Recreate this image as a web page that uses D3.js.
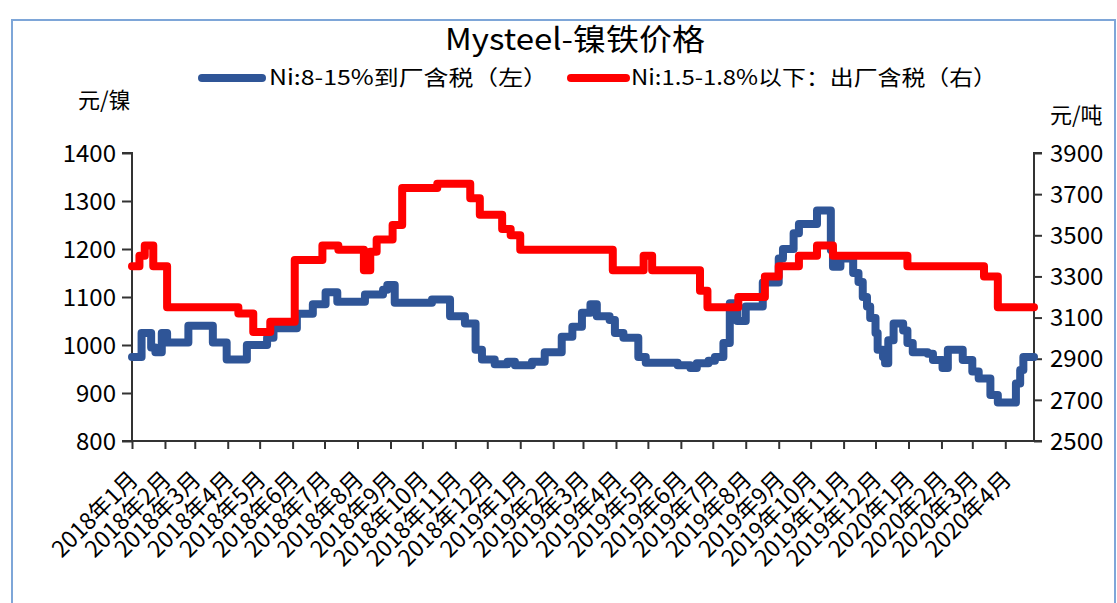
<!DOCTYPE html>
<html><head><meta charset="utf-8">
<script src="https://cdn.jsdelivr.net/npm/d3@7/dist/d3.min.js"></script>
<style>
html,body{margin:0;padding:0;background:#fff;}
svg text{font-family:"Noto Sans CJK SC","Noto Sans",sans-serif;fill:#000;}
</style></head>
<body>
<svg id="chart" width="1117" height="603"></svg>
<script>
const title = "Mysteel-镍铁价格";
const seriesNames = ["Ni:8-15%到厂含税（左）", "Ni:1.5-1.8%以下：出厂含税（右）"];
const leftUnit = "元/镍", rightUnit = "元/吨";
const leftTicks = [800, 900, 1000, 1100, 1200, 1300, 1400];
const rightTicks = [2500, 2700, 2900, 3100, 3300, 3500, 3700, 3900];
const monthTicks = ["2018-01-01","2018-02-01","2018-03-01","2018-04-01","2018-05-01","2018-06-01","2018-07-01","2018-08-01","2018-09-01","2018-10-01","2018-11-01","2018-12-01","2019-01-01","2019-02-01","2019-03-01","2019-04-01","2019-05-01","2019-06-01","2019-07-01","2019-08-01","2019-09-01","2019-10-01","2019-11-01","2019-12-01","2020-01-01","2020-02-01","2020-03-01","2020-04-01"];
const dateRange = ["2018-01-01", "2020-04-28"];

// Blue series (left axis) — change dates and values
const blueDates = ["2018-01-01","2018-01-10","2018-01-19","2018-01-23","2018-01-29","2018-02-03","2018-02-23","2018-03-18","2018-03-31","2018-04-19","2018-05-08","2018-05-14","2018-06-05","2018-06-20","2018-07-02","2018-07-13","2018-08-08","2018-08-25","2018-08-29","2018-09-05","2018-10-10","2018-10-27","2018-11-10","2018-11-20","2018-11-26","2018-12-08","2018-12-20","2018-12-27","2019-01-12","2019-01-24","2019-02-09","2019-02-19","2019-02-28","2019-03-08","2019-03-14","2019-03-26","2019-03-31","2019-04-08","2019-04-22","2019-04-29","2019-05-29","2019-06-10","2019-06-16","2019-06-27","2019-07-03","2019-07-11","2019-07-17","2019-07-24","2019-08-01","2019-08-17","2019-09-01","2019-09-05","2019-09-15","2019-09-20","2019-10-07","2019-10-14","2019-10-20","2019-10-22","2019-10-29","2019-11-07","2019-11-10","2019-11-15","2019-11-19","2019-11-23","2019-11-26","2019-12-01","2019-12-03","2019-12-08","2019-12-10","2019-12-13","2019-12-18","2019-12-23","2019-12-27","2019-12-31","2020-01-05","2020-01-19","2020-01-24","2020-02-02","2020-02-07","2020-02-16","2020-02-21","2020-03-01","2020-03-07","2020-03-15","2020-03-18","2020-03-25","2020-04-06","2020-04-11","2020-04-15","2020-04-18","2020-04-28"];
const blueValues = [975,1025,995,985,1025,1005,1040,1005,970,1000,1015,1035,1065,1085,1110,1090,1105,1115,1125,1088,1095,1060,1045,990,970,960,965,958,965,985,1017,1038,1067,1085,1060,1052,1025,1015,975,963,958,952,962,967,975,1004,1087,1050,1080,1130,1180,1200,1233,1252,1280,1280,1198,1163,1180,1180,1150,1131,1100,1080,1056,1025,990,975,962,1010,1045,1045,1030,1004,985,982,969,952,990,990,969,945,930,930,896,880,880,920,948,975,975];

// Red series (right axis) — change dates and values
const redDates = ["2018-01-01","2018-01-08","2018-01-13","2018-01-21","2018-02-03","2018-04-11","2018-04-25","2018-05-11","2018-06-03","2018-06-29","2018-07-14","2018-08-07","2018-08-13","2018-08-19","2018-09-03","2018-09-12","2018-10-15","2018-11-15","2018-11-24","2018-12-15","2018-12-23","2019-01-01","2019-03-29","2019-04-27","2019-05-05","2019-06-19","2019-06-26","2019-07-25","2019-08-19","2019-09-01","2019-09-20","2019-10-07","2019-10-22","2019-12-31","2020-03-12","2020-03-25","2020-04-28"];
const redValues = [3350,3400,3450,3350,3150,3120,3030,3080,3380,3450,3430,3330,3420,3480,3550,3730,3750,3680,3600,3530,3500,3430,3330,3400,3330,3230,3150,3200,3300,3350,3400,3450,3400,3350,3300,3150,3150];

const parse = d3.timeParse("%Y-%m-%d");
const fmtLabel = d => d.getFullYear() + "年" + (d.getMonth() + 1) + "月";

const svg = d3.select("#chart");
const plot = {left: 132, right: 1034, top: 153, bottom: 441};

// border
svg.append("rect").attr("x", 12).attr("y", 20).attr("width", 1103).attr("height", 620)
  .attr("fill", "none").attr("stroke", "#7ea6d8").attr("stroke-width", 2);

const x = d3.scaleTime().domain(dateRange.map(parse)).range([plot.left, plot.right]);
const yL = d3.scaleLinear().domain([800, 1400]).range([plot.bottom, plot.top]);
const yR = d3.scaleLinear().domain([2500, 3900]).range([plot.bottom, plot.top]);

const axisColor = "#333";

const gL = svg.append("g").attr("transform", `translate(${plot.left},0)`)
  .call(d3.axisLeft(yL).tickValues(leftTicks).tickSize(10).tickPadding(6).tickFormat(d3.format("d")));
const gR = svg.append("g").attr("transform", `translate(${plot.right},0)`)
  .call(d3.axisRight(yR).tickValues(rightTicks).tickSize(8).tickPadding(8).tickFormat(d3.format("d")));
const gB = svg.append("g").attr("transform", `translate(0,${plot.bottom})`)
  .call(d3.axisBottom(x).tickValues(monthTicks.map(parse)).tickSize(8).tickFormat(fmtLabel));

[gL, gR, gB].forEach(g => {
  g.select(".domain").attr("stroke", axisColor).attr("stroke-width", 2);
  g.selectAll(".tick line").attr("stroke", axisColor).attr("stroke-width", 2);
  g.selectAll("text").attr("fill", "#000").style("font-family", '"Noto Sans CJK SC","Noto Sans",sans-serif');
});
gL.select(".domain").attr("d", `M-10,${plot.top}H0V${plot.bottom}H-10`);
gR.select(".domain").attr("d", `M8,${plot.top}H0V${plot.bottom}H8`);
gB.select(".domain").attr("d", `M${plot.left},0H${plot.right}`);
gL.selectAll("text").attr("font-size", 24).attr("dy", "0.34em");
gR.selectAll("text").attr("font-size", 24).attr("dy", "0.34em");
gB.selectAll(".tick text")
  .attr("font-size", 23)
  .attr("text-anchor", "end")
  .attr("dy", 0)
  .attr("y", 0)
  .attr("transform", "translate(7,40) rotate(-45)");

const lineL = d3.line().x(d => x(d.date)).y(d => yL(d.value)).curve(d3.curveStepAfter);
const lineR = d3.line().x(d => x(d.date)).y(d => yR(d.value)).curve(d3.curveStepAfter);
const blue = blueDates.map((d, i) => ({date: parse(d), value: blueValues[i]}));
const red = redDates.map((d, i) => ({date: parse(d), value: redValues[i]}));

const blueColor = "#2f5597", redColor = "#ff0000";
svg.append("path").datum(blue).attr("d", lineL).attr("fill", "none")
  .attr("stroke", blueColor).attr("stroke-width", 8).attr("stroke-linejoin", "round").attr("stroke-linecap", "round");
svg.append("path").datum(red).attr("d", lineR).attr("fill", "none")
  .attr("stroke", redColor).attr("stroke-width", 8).attr("stroke-linejoin", "round").attr("stroke-linecap", "round");

svg.append("text").attr("x", 575).attr("y", 50).attr("text-anchor", "middle")
  .attr("font-size", 30).attr("textLength", 260).attr("lengthAdjust", "spacingAndGlyphs").text(title);

const legend = [
  {x1: 202, x2: 262, tx: 269, tw: 279, color: blueColor, name: seriesNames[0]},
  {x1: 571, x2: 626, tx: 631, tw: 366, color: redColor, name: seriesNames[1]}
];
legend.forEach(l => {
  svg.append("line").attr("x1", l.x1).attr("x2", l.x2).attr("y1", 78).attr("y2", 78)
    .attr("stroke", l.color).attr("stroke-width", 8).attr("stroke-linecap", "round");
  svg.append("text").attr("x", l.tx).attr("y", 85).attr("font-size", 21)
    .attr("textLength", l.tw).attr("lengthAdjust", "spacingAndGlyphs").text(l.name);
});

svg.append("text").attr("x", 78).attr("y", 108).attr("font-size", 22).text(leftUnit);
svg.append("text").attr("x", 1050).attr("y", 123).attr("font-size", 22).text(rightUnit);
</script>
</body></html>
